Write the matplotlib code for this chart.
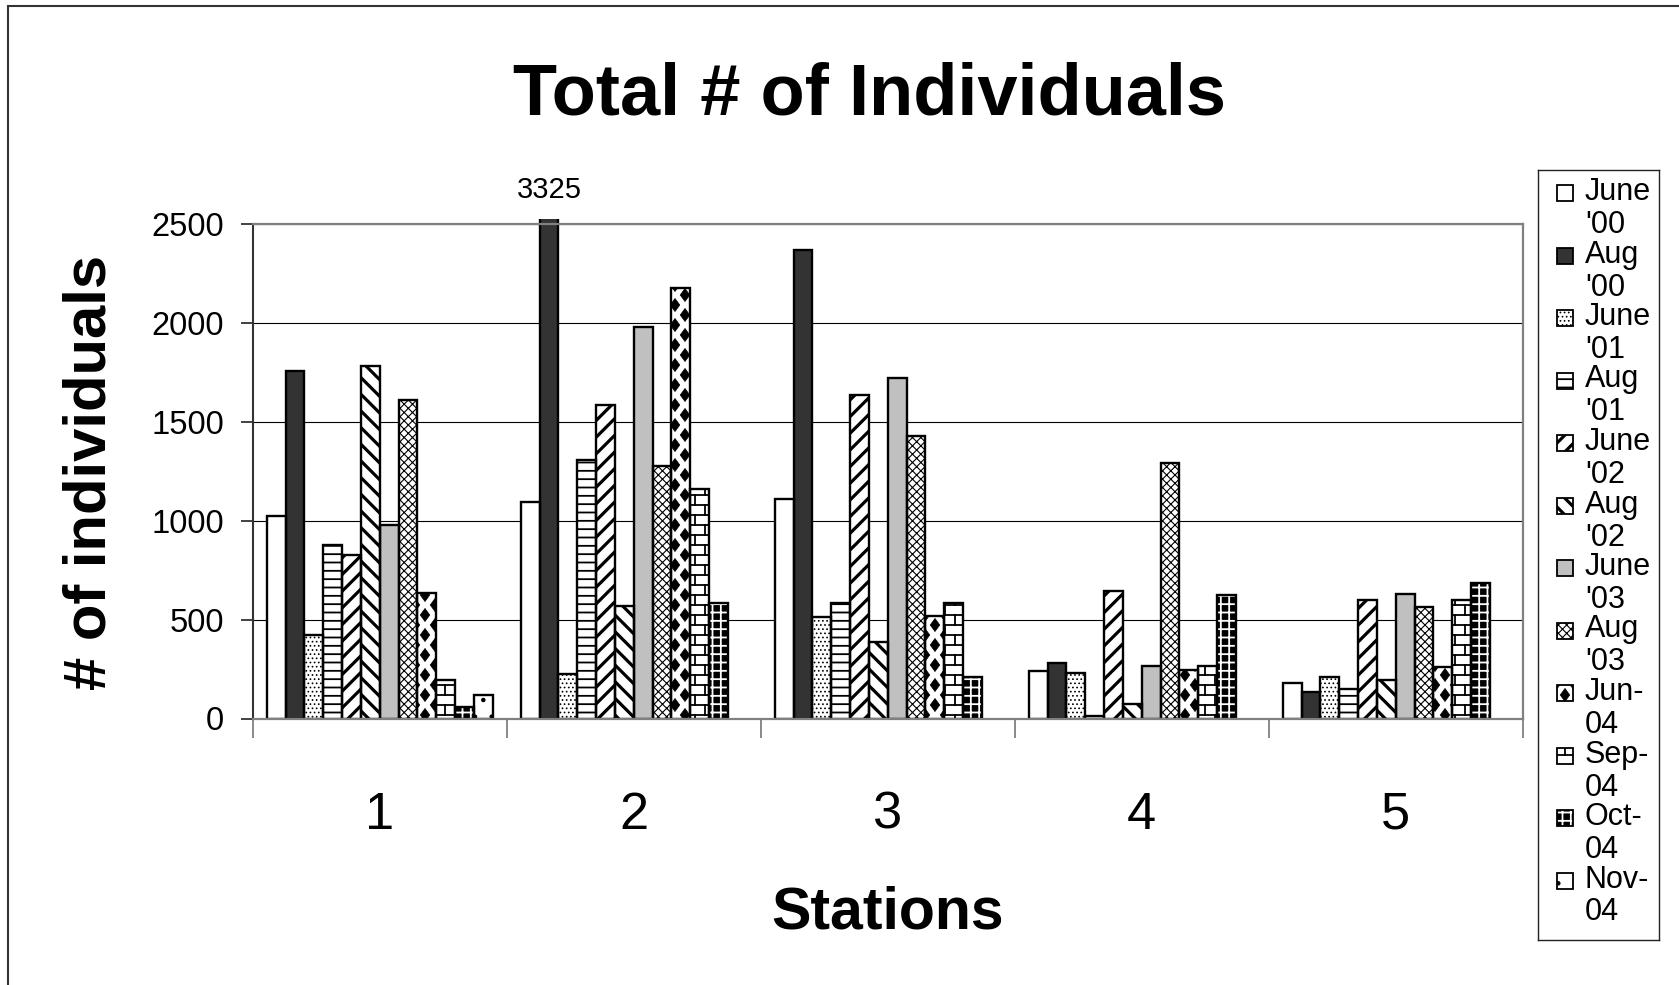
import numpy as np
import matplotlib
matplotlib.use('Agg')
import matplotlib.pyplot as plt
import matplotlib.hatch as mhatch
from matplotlib.patches import Rectangle
from matplotlib.path import Path
from matplotlib.transforms import Bbox, TransformedBbox

plt.rcParams['font.family'] = ['Liberation Sans', 'DejaVu Sans']

# Counts per station for each sampling trip
stations = [1, 2, 3, 4, 5]
june_00 = [1023, 1097, 1111, 242, 181]
aug_00 = [1756, 3325, 2369, 279, 134]
june_01 = [423, 226, 511, 231, 208]
aug_01 = [878, 1305, 584, 13, 147]
june_02 = [828, 1587, 1635, 645, 600]
aug_02 = [1782, 569, 385, 71, 197]
june_03 = [976, 1977, 1722, 266, 627]
aug_03 = [1612, 1279, 1426, 1291, 563]
jun_04 = [632, 2174, 520, 244, 259]
sep_04 = [193, 1160, 584, 266, 600]
oct_04 = [60, 584, 208, 623, 686]
nov_04 = [121, np.nan, np.nan, np.nan, np.nan]

series_values = [june_00, aug_00, june_01, aug_01, june_02, aug_02,
                 june_03, aug_03, jun_04, sep_04, oct_04, nov_04]
series_labels = ["June\n'00", "Aug\n'00", "June\n'01", "Aug\n'01",
                 "June\n'02", "Aug\n'02", "June\n'03", "Aug\n'03",
                 "Jun-\n04", "Sep-\n04", "Oct-\n04", "Nov-\n04"]
y_ticks = [0, 500, 1000, 1500, 2000, 2500]

# fill colour, hatch, hatch line width (pt), hatch colour
styles = [
    ('white', None, 1.0, 'black'),
    ('#333333', None, 1.0, 'black'),
    ('white', '....', 0.7, 'black'),
    ('white', '--', 1.3, 'black'),
    ('white', '//', 2.3, 'black'),
    ('white', '\\\\', 2.3, 'black'),
    ('#c0c0c0', None, 1.0, 'black'),
    ('white', 'xxxx', 0.8, 'black'),
    ('white', '*', 0.5, 'black'),
    ('white', 'O', 1.3, 'black'),
    ('black', '++', 1.3, 'white'),
    ('white', '.', 0.8, 'black'),
]


class DiamondHatch(mhatch.HatchPatternBase):
    """Staggered rows of filled diamonds, used for '*'."""

    def __init__(self, hatch, density):
        n = hatch.count('*')
        self.cols = 5 * n
        self.rows = 10 * n
        # one extra row above and below so the tile wraps cleanly
        self.num_vertices = self.cols * (self.rows + 2) * 5

    def set_vertices_and_codes(self, vertices, codes):
        hw = 0.25 / self.cols * 0.95
        hh = 0.5 / self.rows * 1.3
        shape = np.array([[0, hh], [-hw, 0], [0, -hh], [hw, 0], [0, hh]])
        parts = []
        for r in range(-1, self.rows + 1):
            shift = 0.25 if r % 2 == 0 else 0.75
            y = (r + 0.5) / self.rows
            for c in range(self.cols):
                parts.append(shape + [(c + shift) / self.cols, y])
        vertices[:] = np.concatenate(parts)
        codes[:] = np.tile([Path.MOVETO, Path.LINETO, Path.LINETO,
                            Path.LINETO, Path.CLOSEPOLY], len(parts))


class BrickHatch(mhatch.HatchPatternBase):
    """Running-bond brick courses, used for 'O'."""

    def __init__(self, hatch, density):
        n = hatch.count('O')
        self.cols = 5 * n
        self.rows = 10 * n
        self.num_vertices = 2 * self.rows + 2 * self.cols * (self.rows + 1)

    def set_vertices_and_codes(self, vertices, codes):
        segs = []
        for r in range(self.rows):
            y = (r + 0.5) / self.rows
            segs.append([[0, y], [1, y]])
        # row -1 wraps round from the top of the tile
        for r in range(-1, self.rows):
            y0 = (r + 0.5) / self.rows
            y1 = (r + 1.5) / self.rows
            shift = 0.25 if r % 2 == 0 else 0.75
            for c in range(self.cols):
                x = (c + shift) / self.cols
                segs.append([[x, y0], [x, y1]])
        vertices[:] = np.array(segs, dtype=float).reshape(-1, 2)
        codes[:] = np.tile([Path.MOVETO, Path.LINETO], len(segs))


mhatch._hatch_types[mhatch._hatch_types.index(mhatch.Stars)] = DiamondHatch
mhatch._hatch_types[mhatch._hatch_types.index(mhatch.LargeCircles)] = BrickHatch


def hatched(patch, lw):
    if hasattr(patch, 'set_hatch_linewidth'):
        patch.set_hatch_linewidth(lw)


W, H = 1679, 985
fig = plt.figure(figsize=(W / 100, H / 100), dpi=100)
ax = fig.add_axes([252.7 / W, 1 - 718.5 / H, 1270 / W, 494.5 / H])

n = len(series_values)
width = 0.89 / n
x = np.array(stations, dtype=float)
clip = TransformedBbox(Bbox([[0, 0], [1, 1.01]]), ax.transAxes)

for i, (vals, (face, hatch, hlw, hcol)) in enumerate(zip(series_values, styles)):
    xs = x + (i - (n - 1) / 2) * width
    plt.rcParams['hatch.linewidth'] = hlw
    body = ax.bar(xs, vals, width, color=face, edgecolor=hcol,
                  linewidth=0, hatch=hatch, zorder=2)
    edge = ax.bar(xs, vals, width, fill=False, edgecolor='black',
                  linewidth=1.7, zorder=2.1)
    for p in list(body) + list(edge):
        p.set_clip_box(clip)
    for p in body:
        hatched(p, hlw)

# the off-scale bar gets its value written above the plot area
top_x = x[1] + (1 - (n - 1) / 2) * width
ax.annotate(str(aug_00[1]), (top_x, y_ticks[-1]), xytext=(0, 19),
            textcoords='offset points', ha='center', va='baseline',
            fontsize=21, annotation_clip=False)

ax.set_xlim(0.5, 5.5)
ax.set_ylim(y_ticks[0], y_ticks[-1])
ax.set_yticks(y_ticks)
ax.set_xticks(stations)
ax.set_xticklabels([str(s) for s in stations])
ax.set_xticks(np.arange(0.5, len(stations) + 1), minor=True)
ax.tick_params(axis='x', which='major', length=0, pad=52, labelsize=37.7)
ax.tick_params(axis='x', which='minor', length=13.7, width=1.3,
               color='#808080', direction='out')
ax.tick_params(axis='y', length=9, width=1.3, color='#333333', pad=11.5,
               labelsize=23.5)
ax.set_axisbelow(True)
ax.yaxis.grid(True, color='black', linewidth=0.8)

ax.spines['left'].set_color('#333333')
ax.spines['left'].set_linewidth(1.5)
for side in ('top', 'right', 'bottom'):
    ax.spines[side].set_color('#808080')
    ax.spines[side].set_linewidth(1.6)

ax.set_xlabel('Stations', fontsize=42.5, fontweight='bold')
ax.xaxis.set_label_coords(0.5, -0.393)
ax.xaxis.label.set_va('center')
ax.set_ylabel('# of individuals', fontsize=43, fontweight='bold')
ax.yaxis.set_label_coords(-0.1285, 0.4969)
ax.yaxis.label.set_va('center')

fig.text(869 / W, 1 - 114.6 / H, 'Total # of Individuals', ha='center',
         va='baseline', fontsize=52, fontweight='bold')

# legend box, laid out in pixel units from its top-left corner
lx0, ly0, lw_, lh_ = 1538.3, 170, 120.7, 770
lax = fig.add_axes([lx0 / W, 1 - (ly0 + lh_) / H, lw_ / W, lh_ / H])
lax.set_xlim(0, lw_)
lax.set_ylim(lh_, 0)
lax.set_xticks([])
lax.set_yticks([])
for s in lax.spines.values():
    s.set_color('#222222')
    s.set_linewidth(1.0)

for i, (label, (face, hatch, hlw, hcol)) in enumerate(zip(series_labels, styles)):
    base = 30 + i * 62.5
    plt.rcParams['hatch.linewidth'] = hlw
    sw = Rectangle((18.2, base - 15), 16, 16, facecolor=face, edgecolor=hcol,
                   linewidth=0, hatch=hatch)
    hatched(sw, hlw)
    lax.add_patch(sw)
    lax.add_patch(Rectangle((18.2, base - 15), 16, 16, fill=False,
                            edgecolor='black', linewidth=1.3))
    for k, line in enumerate(label.split('\n')):
        lax.text(46.5, base + k * 33, line, ha='left', va='baseline',
                 fontsize=22)

# outer chart frame, only its top and left edges fall inside the image
fig.add_artist(Rectangle((7.7 / W, -0.1), 1.2, 1 - 5.7 / H + 0.1,
                         transform=fig.transFigure, fill=False,
                         edgecolor='#333333', linewidth=1.5))

fig.savefig('out.png', dpi=100)
